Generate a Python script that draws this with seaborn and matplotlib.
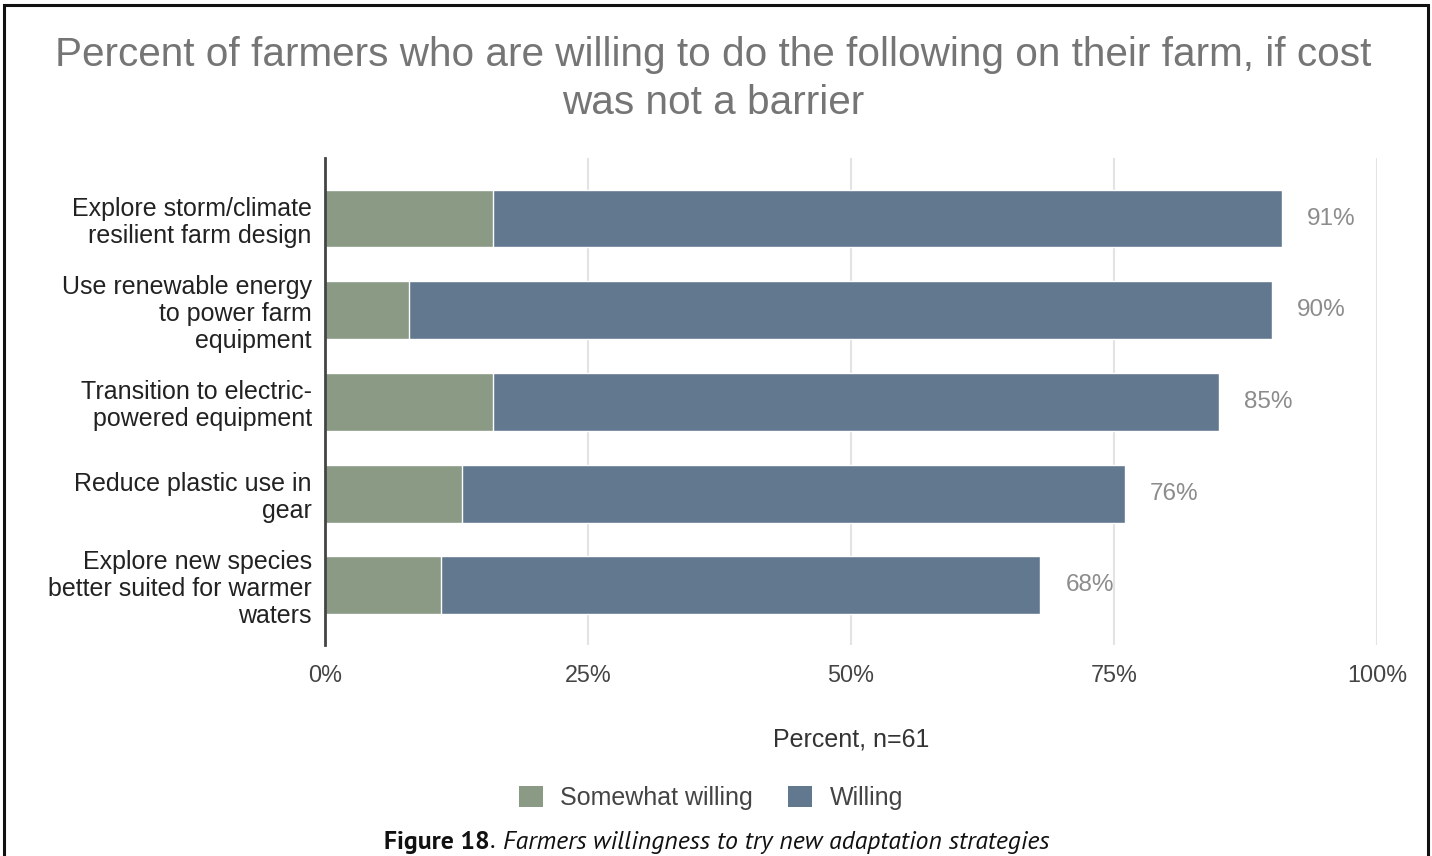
import matplotlib
matplotlib.use("Agg")
import matplotlib.pyplot as plt
from matplotlib.patches import Rectangle, Patch
import seaborn as sns
import pandas as pd

strategies = [
    "Explore storm/climate\nresilient farm design",
    "Use renewable energy\nto power farm\nequipment",
    "Transition to electric-\npowered equipment",
    "Reduce plastic use in\ngear",
    "Explore new species\nbetter suited for warmer\nwaters",
]
somewhat_willing = [16, 8, 16, 13, 11]
willing = [75, 82, 69, 63, 57]
x_ticks = [0, 25, 50, 75, 100]
x_tick_labels = ["0%", "25%", "50%", "75%", "100%"]

GREEN = "#8a9a84"
BLUE = "#62788f"

sns.set_theme(style="white")
plt.rcParams["font.family"] = ["Liberation Sans", "DejaVu Sans"]

df = pd.DataFrame({
    "strategy": strategies,
    "somewhat": somewhat_willing,
    "willing": willing,
})
df["total"] = df["somewhat"] + df["willing"]

W, H = 1432, 856
fig = plt.figure(figsize=(W / 100, H / 100), dpi=100)
ax = fig.add_axes([325 / W, 1 - 645 / H, (1377 - 325) / W, (645 - 158) / H])

# stacked bars: full total in blue, "somewhat" segment drawn over it in green
sns.barplot(data=df, x="total", y="strategy", color=BLUE, width=0.63,
            saturation=1, ax=ax, zorder=3)
sns.barplot(data=df, x="somewhat", y="strategy", color=GREEN, width=0.63,
            saturation=1, ax=ax, zorder=4)

for i, tot in enumerate(df["total"]):
    ax.annotate(f"{tot}%", xy=(tot, i), xytext=(25, 0), textcoords="offset pixels",
                va="center", ha="left", fontsize=17.5, color="#8c8c8c")

ax.set_xlim(0, 100)
ax.set_ylim(4.65, -0.66)
ax.set_xticks(x_ticks)
ax.set_xticklabels(x_tick_labels)
ax.tick_params(axis="x", length=0, pad=14, labelsize=16.8, labelcolor="#444444")
ax.tick_params(axis="y", length=0, pad=9.5, labelsize=18, labelcolor="#222222")
for lbl in ax.get_yticklabels():
    lbl.set_linespacing(1.15)
ax.grid(axis="x", color="#e3e3e3", linewidth=1.5, zorder=0)
ax.set_axisbelow(True)
for side in ["top", "right", "bottom"]:
    ax.spines[side].set_visible(False)
ax.spines["left"].set_color("#444444")
ax.spines["left"].set_linewidth(2)
ax.spines["left"].set_zorder(5)
ax.set_ylabel("")
ax.set_xlabel("")

fig.text(851 / W, 1 - 740 / H, "Percent, n=61", ha="center", va="center",
         fontsize=18, color="#333333")

fig.text(713 / W, 1 - 79 / H,
         "Percent of farmers who are willing to do the following on their farm, if cost\nwas not a barrier",
         ha="center", va="center", fontsize=29.2, color="#757575", linespacing=1.34)

handles = [Patch(facecolor=GREEN, edgecolor="none", label="Somewhat willing"),
           Patch(facecolor=BLUE, edgecolor="none", label="Willing")]
fig.legend(handles=handles, loc="center", bbox_to_anchor=(711 / W, 1 - 798 / H),
           ncol=2, frameon=False, fontsize=18, handlelength=0.95, handleheight=0.95,
           handletextpad=0.7, columnspacing=1.4, labelcolor="#444444")

# caption: bold figure number followed by italic description
cap_font = ["PT Sans", "DejaVu Sans"]
cap_size = 18.5
cap_y = 1 - 842 / H
t1 = fig.text(384 / W, cap_y, "Figure 18", ha="left", va="center", fontsize=cap_size,
              fontweight="bold", family=cap_font, color="#111111")
fig.canvas.draw()
r = fig.canvas.get_renderer()
bb = t1.get_window_extent(r)
t2 = fig.text(bb.x1 / W, cap_y, ". ", ha="left", va="center", fontsize=cap_size,
              family=cap_font, color="#111111")
bb2 = t2.get_window_extent(r)
fig.text(bb2.x1 / W + 3 / W, cap_y, "Farmers willingness to try new adaptation strategies",
         ha="left", va="center", fontsize=cap_size, style="italic", family=cap_font,
         color="#111111")

# outer frame around the whole figure
fig.patches.append(Rectangle((4 / W, -0.05), (1428 - 4) / W, 1 - 5 / H + 0.05,
                             transform=fig.transFigure, fill=False,
                             edgecolor="#111111", linewidth=2.2))

fig.savefig("out.png", dpi=100)
